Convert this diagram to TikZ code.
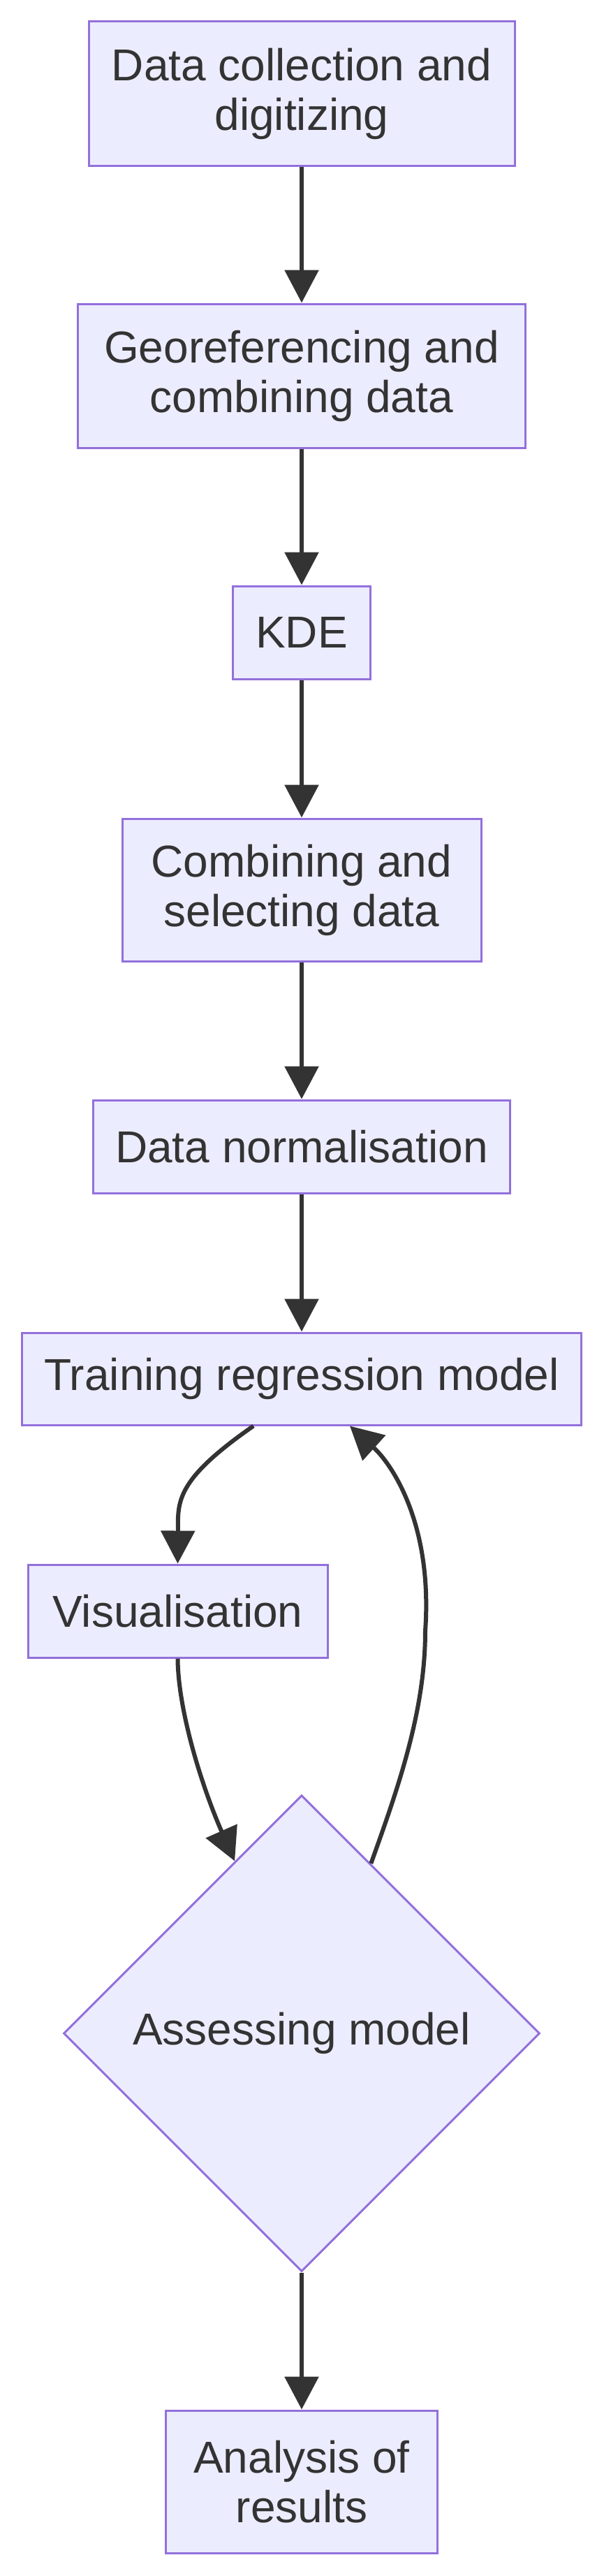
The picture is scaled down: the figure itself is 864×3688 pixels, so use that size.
\documentclass[tikz,border=0pt]{standalone}
\usepackage{fontspec}
\setmainfont{Liberation Sans}
\usetikzlibrary{positioning, shapes.geometric, arrows.meta, calc}
\definecolor{boxfill}{HTML}{ECECFF}
\definecolor{boxline}{HTML}{9370DB}
\definecolor{darkline}{HTML}{333333}

\begin{document}
\begin{tikzpicture}[x=0.5pt, y=-0.5pt,
		box/.style={draw=boxline, fill=boxfill, line width=1.5pt, inner sep=0pt, align=center, text=darkline, font=\fontsize{32}{35.5}\selectfont},
		decision/.style={box, diamond, aspect=1, minimum width=341pt, minimum height=341pt},
		flow/.style={draw=darkline, line width=3pt, -{Triangle[width=24pt, length=23.5pt]}}]
		\useasboundingbox (0,0) rectangle (864,3688);
		
		\node[box, minimum width=305pt, minimum height=103pt] (collect) at (432,134) {Data collection and\\digitizing};
		\node[box, minimum width=320.5pt, minimum height=103pt] (georef) at (432,538) {Georeferencing and\\combining data};
		\node[box, minimum width=98.5pt, minimum height=66.5pt] (kde) at (432,905.5) {KDE};
		\node[box, minimum width=257pt, minimum height=102pt] (select) at (432,1274) {Combining and\\selecting data};
		\node[box, minimum width=298.5pt, minimum height=66.5pt] (norm) at (432,1641.5) {Data normalisation};
		\node[box, minimum width=400.5pt, minimum height=66pt] (train) at (432,1974) {Training regression model};
		\node[box, minimum width=214.5pt, minimum height=66.5pt] (vis) at (254.5,2306.5) {Visualisation};
		\node[decision] (assess) at (432,2911) {Assessing model};
		\node[box, minimum width=194.5pt, minimum height=102pt] (result) at (432,3553) {Analysis of\\results};
		
		\coordinate (inA) at ($(assess.north)!0.28!(assess.west)$);
		\coordinate (outA) at ($(assess.north)!0.29!(assess.east)$);
		
		\draw[flow] (collect.south) -- (georef.north);
		\draw[flow] (georef.south) -- (kde.north);
		\draw[flow] (kde.south) -- (select.north);
		\draw[flow] (select.south) -- (norm.north);
		\draw[flow] (norm.south) -- (train.north);
		\draw[flow] ([xshift=-34.5pt]train.south) .. controls (250,2120) and (255,2150) .. (vis.north);
		\draw[flow] (vis.south) .. controls (255,2450) and (290,2560) .. (inA);
		\draw[flow] (outA) .. controls (570,2560) and (609,2450) .. (609,2335) .. controls (620,2180) and (560,2095) .. ([xshift=34.5pt]train.south);
		\draw[flow] (assess.south) -- (result.north);
\end{tikzpicture}
\end{document}
